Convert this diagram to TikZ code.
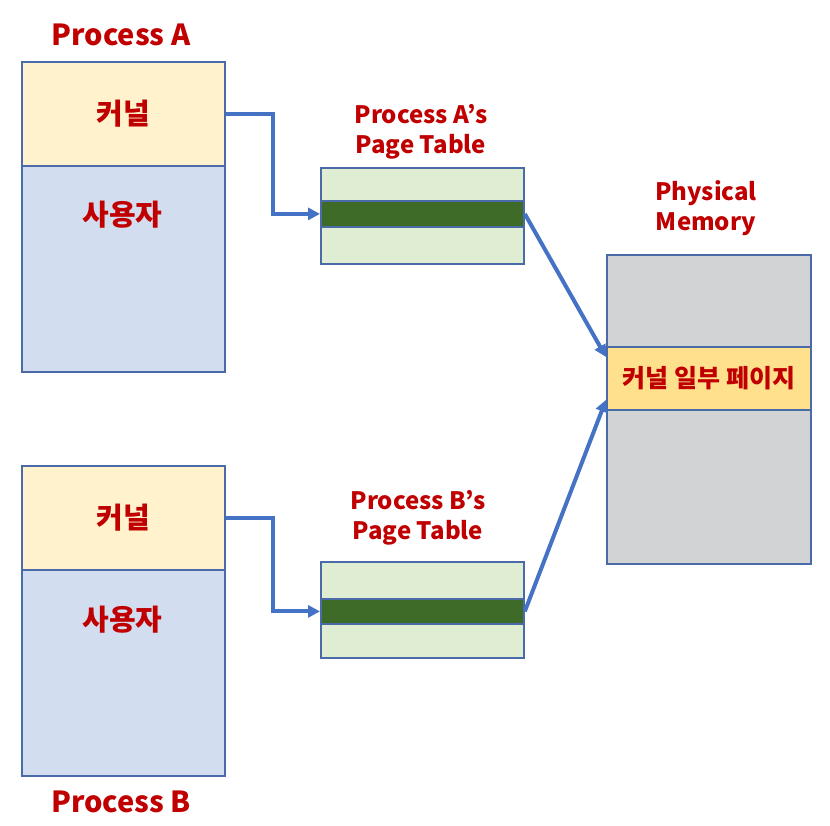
\documentclass[tikz,border=0pt]{standalone}
\usepackage{fontspec}
\setmainfont{Noto Sans CJK KR}
\usetikzlibrary{arrows.meta,calc}
\definecolor{lbl}{HTML}{C00000}
\definecolor{kfill}{HTML}{FFF2CC}
\definecolor{ufill}{HTML}{D2DDEF}
\definecolor{edge}{HTML}{4A6AA8}
\definecolor{ptl}{HTML}{DFEDD3}
\definecolor{ptd}{HTML}{3E6B27}
\definecolor{memg}{HTML}{D1D3D4}
\definecolor{memy}{HTML}{FFE08C}
\definecolor{arrc}{HTML}{4472C4}
\tikzset{
  cell/.style={draw=edge, line width=1.8pt, rectangle, inner sep=0pt, anchor=north west},
  bigtxt/.style={text=lbl, font=\fontsize{29}{33}\selectfont\bfseries, inner sep=0pt},
  ttl/.style={text=lbl, font=\fontsize{24}{30}\selectfont\bfseries, align=center, inner sep=0pt},
  memtxt/.style={text=lbl, font=\fontsize{25}{28}\selectfont\bfseries, inner sep=0pt},
  arr/.style={draw=arrc, line width=4pt, -{Triangle[length=12pt,width=12pt]}},
}
\begin{document}
\begin{tikzpicture}[x=1pt,y=1pt]
\useasboundingbox (0,0) rectangle (830,-826);
% Process A
\node[bigtxt] (tA) at (121,-35) {Process A};
\node[cell, fill=kfill, minimum width=203, minimum height=104] (kA) at (21,-61) {};
\node[cell, fill=ufill, minimum width=203, minimum height=206] (uA) at (21,-165) {};
\node[bigtxt] (kAt) at (kA.center) {커널};
\node[bigtxt] (uAt) at (122.5,-215) {사용자};
% Process B
\node[cell, fill=kfill, minimum width=203, minimum height=104] (kB) at (21,-465) {};
\node[cell, fill=ufill, minimum width=203, minimum height=206] (uB) at (21,-569) {};
\node[bigtxt] (kBt) at (kB.center) {커널};
\node[bigtxt] (uBt) at (122.5,-620) {사용자};
\node[bigtxt] (tB) at (121,-802) {Process B};
% Page table A
\node[ttl] (ptA) at (421,-131.5) {Process A’s\\Page Table};
\node[cell, fill=ptl, minimum width=203, minimum height=33] (pA1) at (320,-167) {};
\node[cell, fill=ptd, minimum width=203, minimum height=26] (bandA) at (320,-200) {};
\node[cell, fill=ptl, minimum width=203, minimum height=37] (pA3) at (320,-226) {};
% Page table B
\node[ttl] (ptB) at (418,-517.5) {Process B’s\\Page Table};
\node[cell, fill=ptl, minimum width=203, minimum height=37] (pB1) at (320,-561) {};
\node[cell, fill=ptd, minimum width=203, minimum height=25] (bandB) at (320,-598) {};
\node[cell, fill=ptl, minimum width=203, minimum height=34] (pB3) at (320,-623) {};
% Physical memory
\node[ttl] (pmt) at (706,-208.5) {Physical\\Memory};
\node[cell, fill=memg, minimum width=204, minimum height=92] (m1) at (606,-254) {};
\node[cell, fill=memy, minimum width=204, minimum height=63] (mK) at (606,-346) {};
\node[cell, fill=memg, minimum width=204, minimum height=154] (m3) at (606,-409) {};
\node[memtxt] (mKt) at (mK.center) {커널 일부 페이지};
\coordinate (inA) at ($(mK.north west)+(0,-11)$);
\coordinate (inB) at ($(mK.south west)+(0,11)$);
% connectors
\draw[arr] (kA.east) -| ($(kA.east)!.5!(bandA.west)$) |- (bandA.west);
\draw[arr] (kB.east) -| ($(kB.east)!.5!(bandB.west)$) |- (bandB.west);
\draw[arr] (bandA.east) -- (inA);
\draw[arr] (bandB.east) -- (inB);
\end{tikzpicture}
\end{document}
